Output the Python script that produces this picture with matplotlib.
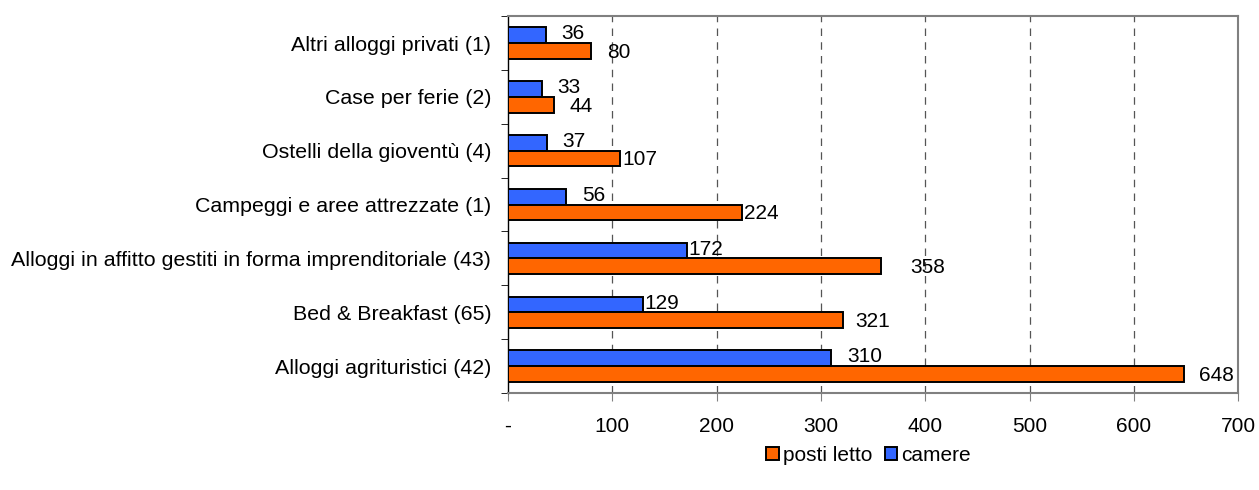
import numpy as np
import matplotlib.pyplot as plt

plt.rcParams['font.family'] = ['Liberation Sans', 'DejaVu Sans']

categories = ['Altri alloggi privati (1)', 'Case per ferie (2)', 'Ostelli della gioventù (4)',
              'Campeggi e aree attrezzate (1)',
              'Alloggi in affitto gestiti in forma imprenditoriale (43)',
              'Bed & Breakfast (65)', 'Alloggi agrituristici (42)']
camere = [36, 33, 37, 56, 172, 129, 310]
posti_letto = [80, 44, 107, 224, 358, 321, 648]
xticks = [0, 100, 200, 300, 400, 500, 600, 700]
xtick_labels = ['-', '100', '200', '300', '400', '500', '600', '700']

ORANGE = '#FF6600'
BLUE = '#3366FF'
FS = 15
# label offsets in points (Excel placed them unevenly)
off_posti = [11, 11.5, 2, 1.5, 21, 9, 11]
off_camere = [11, 11, 11, 11, 1, 1, 11.5]

fig = plt.figure(figsize=(12.59, 4.9), dpi=100)
ax = fig.add_axes([0.4035, 0.198, 0.58, 0.769])

n = len(categories)
y = np.arange(n)[::-1]
h = 0.29
ax.barh(y + h / 2, camere, height=h, color=BLUE, edgecolor='black', linewidth=1.4, label='camere', zorder=3)
ax.barh(y - h / 2, posti_letto, height=h, color=ORANGE, edgecolor='black', linewidth=1.4, label='posti letto', zorder=3)

for yi, v, o in zip(y, camere, off_camere):
    ax.annotate(str(v), (v, yi + h / 2), xytext=(o, 1), textcoords='offset points',
                va='center', ha='left', fontsize=FS)
for yi, v, o in zip(y, posti_letto, off_posti):
    ax.annotate(str(v), (v, yi - h / 2), xytext=(o, -1), textcoords='offset points',
                va='center', ha='left', fontsize=FS)

ax.set_xlim(0, 700)
ax.set_ylim(-0.5, n - 0.5)
ax.set_xticks(xticks)
ax.set_xticklabels(xtick_labels, fontsize=FS)
ax.set_yticks(y)
ax.set_yticklabels(categories, fontsize=15.4)
ax.set_yticks(np.arange(n + 1) - 0.5, minor=True)
ax.tick_params(axis='y', which='major', length=0, pad=12)
ax.tick_params(axis='y', which='minor', length=5, direction='out', color='black')
ax.tick_params(axis='x', length=6, direction='out', color='#808080', pad=11)

for xv in xticks[1:-1]:
    ax.axvline(xv, color='#555555', linestyle=(0, (6, 5)), linewidth=0.9, zorder=1)

for s in ['top', 'right', 'bottom']:
    ax.spines[s].set_color('#808080')
    ax.spines[s].set_linewidth(1.5)
ax.spines['left'].set_color('black')
ax.spines['left'].set_linewidth(1)

handles, labels = ax.get_legend_handles_labels()
fig.legend(handles[::-1], labels[::-1], loc='center', bbox_to_anchor=(0.69, 0.07), ncol=2,
           frameon=False, fontsize=FS, handlelength=0.6, handleheight=0.6,
           handletextpad=0.2, columnspacing=0.6)

fig.savefig('out.png', dpi=100)
